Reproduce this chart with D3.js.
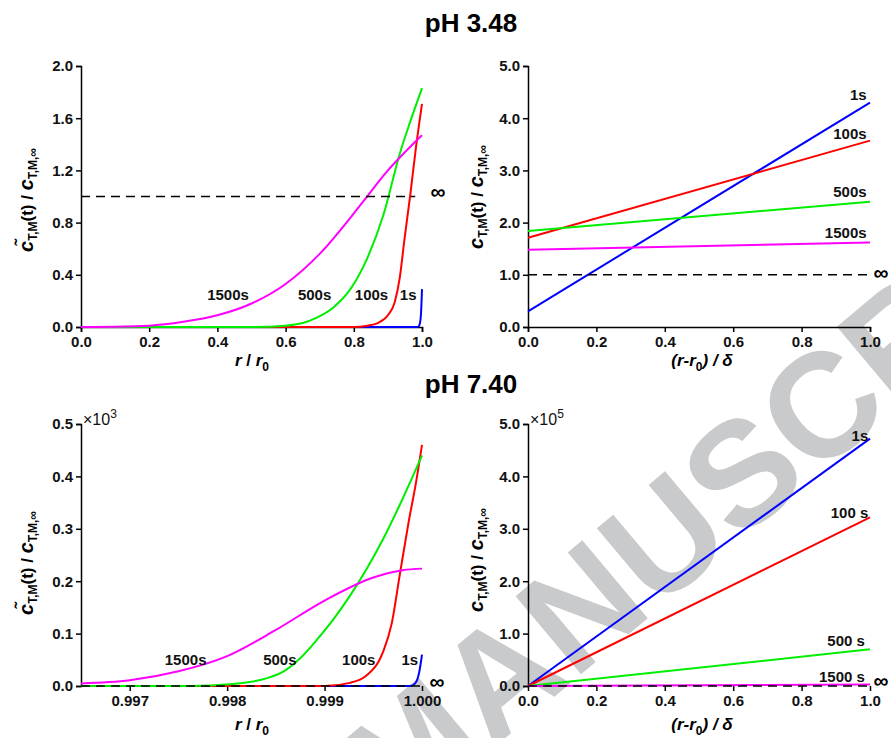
<!DOCTYPE html>
<html>
<head>
<meta charset="utf-8">
<script src="https://cdn.jsdelivr.net/npm/d3@7"></script>
<style>
  body { margin: 0; background: #fff; }
  svg { display: block; font-family: "Liberation Sans", Arial, sans-serif; }
  .tick text { font-size: 15px; font-weight: bold; fill: #111; }
  .domain, .tick line { stroke: #000; stroke-width: 1.5px; }
</style>
</head>
<body>
<svg></svg>
<script>
const timeLabels = ['1s', '100s', '500s', '1500s'];
const timeLabelsSpaced = ['1s', '100 s', '500 s', '1500 s'];
const lineColors = ['#0000ff', '#ff0000', '#00ee00', '#ff00ff'];

// pH 3.48, inside the particle, x = r / r0
const acidIn1s = [[0, 0], [0.988, 0], [0.993, 0.02], [0.997, 0.1], [1.0, 0.29]];
const acidIn100s = [[0, 0], [0.80, 0], [0.84, 0.01], [0.87, 0.03], [0.90, 0.09], [0.92, 0.19],
  [0.935, 0.38], [0.948, 0.66], [0.965, 1.0], [0.982, 1.37], [1.0, 1.71]];
const acidIn500s = [[0, 0], [0.5, 0], [0.6, 0.01], [0.65, 0.03], [0.69, 0.07], [0.74, 0.15],
  [0.79, 0.29], [0.84, 0.53], [0.887, 0.86], [0.935, 1.33], [0.965, 1.57], [1.0, 1.83]];
const acidIn1500s = [[0, 0], [0.1, 0.002], [0.2, 0.01], [0.3, 0.04], [0.4, 0.09], [0.5, 0.18],
  [0.6, 0.33], [0.7, 0.56], [0.8, 0.87], [0.83, 0.97], [0.9, 1.2], [0.95, 1.34], [1.0, 1.47]];
const acidInInf = [[0, 1], [0.98, 1]];

// pH 3.48, film, x = (r - r0) / delta
const filmX = [0, 1];
const acidFilm1s = [0.30, 4.30];
const acidFilm100s = [1.71, 3.57];
const acidFilm500s = [1.84, 2.40];
const acidFilm1500s = [1.48, 1.62];
const acidFilmInf = [1, 1];

// pH 7.40, inside the particle (values x10^3)
const neutIn1s = [[0.9965, 0], [0.99988, 0], [0.99993, 0.005], [0.99997, 0.025], [1.0, 0.06]];
const neutIn100s = [[0.9965, 0], [0.999, 0], [0.99926, 0.006], [0.99943, 0.02], [0.9996, 0.065],
  [0.99969, 0.12], [0.99977, 0.21], [0.99986, 0.31], [0.99994, 0.39], [1.0, 0.46]];
const neutIn500s = [[0.9965, 0], [0.9976, 0], [0.99806, 0.004], [0.99841, 0.015], [0.99858, 0.028],
  [0.99875, 0.053], [0.99892, 0.088], [0.99909, 0.127], [0.99926, 0.172], [0.99943, 0.223],
  [0.9996, 0.28], [0.99977, 0.345], [1.0, 0.44]];
const neutIn1500s = [[0.9965, 0.005], [0.997, 0.011], [0.9975, 0.028], [0.998, 0.057],
  [0.9985, 0.107], [0.999, 0.163], [0.9995, 0.207], [0.9998, 0.221], [1.0, 0.224]];
const neutInInf = [[0.9965, 0], [1.0, 0]];

// pH 7.40, film (values x10^5)
const neutFilm1s = [0, 4.72];
const neutFilm100s = [0, 3.22];
const neutFilm500s = [0, 0.70];
const neutFilm1500s = [0, 0.03];
const neutFilmInf = [0, 0];

// ticks
const xTicksUnit = [0, 0.2, 0.4, 0.6, 0.8, 1.0];
const xTicksNeutIn = [0.997, 0.998, 0.999, 1.000];
const yTicksAcidIn = [0, 0.4, 0.8, 1.2, 1.6, 2.0];
const yTicksFive = [0, 1, 2, 3, 4, 5];
const yTicksNeutIn = [0, 0.1, 0.2, 0.3, 0.4, 0.5];

// curve label anchors [x, y] in data units
const acidInLabelPos = [[0.935, 0.205], [0.803, 0.205], [0.636, 0.205], [0.37, 0.205]];
const acidFilmLabelPos = [[0.99, 4.34], [0.99, 3.60], [0.99, 2.49], [0.99, 1.70]];
const neutInLabelPos = [[0.99979, 0.04], [0.99918, 0.04], [0.99837, 0.04], [0.99736, 0.04]];
const neutFilmLabelPos = [[0.995, 4.67], [0.995, 3.20], [0.985, 0.76], [0.985, 0.08]];

const zip = (xs, ys) => xs.map((x, i) => [x, ys[i]]);

const svg = d3.select('svg').attr('width', 891).attr('height', 738);

// watermark
svg.append('text')
  .attr('transform', 'translate(742,472) rotate(-40)')
  .attr('text-anchor', 'middle')
  .attr('dominant-baseline', 'central')
  .style('font-size', '148px')
  .style('font-weight', 'bold')
  .style('fill', '#c9cacc')
  .text('MANUSCRIPT');

const titleText = (y, txt) => svg.append('text')
  .attr('x', 471).attr('y', y)
  .attr('text-anchor', 'middle')
  .style('font-size', '26px').style('font-weight', 'bold')
  .text(txt);

titleText(32, 'pH 3.48');
titleText(393, 'pH 7.40');

const yLabel = (x, cy, bar) => {
  const t = svg.append('text')
    .attr('transform', `translate(${x},${cy}) rotate(-90)`)
    .attr('text-anchor', 'middle')
    .style('font-weight', 'bold').style('font-size', '17px');
  t.append('tspan').style('font-style', 'italic').style('font-size', '20px').text(bar ? 'c\u0303' : 'c');
  t.append('tspan').attr('dy', 4).style('font-size', '12px').text('T,M');
  t.append('tspan').attr('dy', -4).text('(t) / ');
  t.append('tspan').style('font-style', 'italic').style('font-size', '20px').text('c');
  t.append('tspan').attr('dy', 4).style('font-size', '12px').text('T,M,\u221e');
};

const xLabelR = (cx, y) => {
  const t = svg.append('text').attr('x', cx).attr('y', y)
    .attr('text-anchor', 'middle')
    .style('font-weight', 'bold').style('font-size', '17px');
  t.append('tspan').style('font-style', 'italic').text('r');
  t.append('tspan').text(' / ');
  t.append('tspan').style('font-style', 'italic').text('r');
  t.append('tspan').attr('dy', 5).style('font-size', '12px').text('0');
};

const xLabelFilm = (cx, y) => {
  const t = svg.append('text').attr('x', cx).attr('y', y)
    .attr('text-anchor', 'middle')
    .style('font-weight', 'bold').style('font-size', '17px').style('font-style', 'italic');
  t.append('tspan').text('(r-r');
  t.append('tspan').attr('dy', 5).style('font-size', '12px').style('font-style', 'normal').text('0');
  t.append('tspan').attr('dy', -5).text(') / \u03b4');
};

const drawPanel = opt => {
  const w = opt.x1 - opt.x0;
  const h = opt.y1 - opt.y0;
  const x = d3.scaleLinear().domain(opt.xDomain).range([0, w]);
  const y = d3.scaleLinear().domain(opt.yDomain).range([h, 0]);
  const g = svg.append('g').attr('transform', `translate(${opt.x0},${opt.y0})`);

  g.append('g')
    .call(d3.axisLeft(y).tickValues(opt.yTicks).tickFormat(d3.format('.1f')).tickSize(5).tickPadding(3));

  const xa = g.append('g').attr('transform', `translate(0,${h})`)
    .call(d3.axisBottom(x).tickValues(opt.xTicks).tickFormat(d3.format(opt.xFmt)).tickSize(5).tickPadding(4));
  if (opt.noXDomain) xa.select('.domain').remove();

  const line = d3.line().x(d => x(d[0])).y(d => y(d[1])).curve(d3.curveMonotoneX);

  opt.series.forEach((s, i) => {
    g.append('path').datum(s)
      .attr('fill', 'none')
      .attr('stroke', lineColors[i])
      .attr('stroke-width', 2)
      .attr('d', line);
  });

  g.append('path').datum(opt.inf)
    .attr('fill', 'none')
    .attr('stroke', '#000')
    .attr('stroke-width', 1.6)
    .attr('stroke-dasharray', '9,6')
    .attr('d', line);

  g.append('text')
    .attr('x', x(opt.xDomain[1]) + opt.infDx)
    .attr('y', y(opt.inf[opt.inf.length - 1][1]) + opt.infDy)
    .attr('dy', '0.32em')
    .attr('text-anchor', 'middle')
    .style('font-size', '21px').style('font-weight', 'bold')
    .text('\u221e');

  opt.labelPos.forEach((p, i) => {
    g.append('text')
      .attr('x', x(p[0])).attr('y', y(p[1]))
      .attr('text-anchor', opt.labelAnchor)
      .style('font-size', '15px').style('font-weight', 'bold').style('fill', '#111')
      .text(opt.labels[i]);
  });

  if (opt.factor) {
    const t = g.append('text').attr('x', 2).attr('y', 1)
      .style('font-size', '16px').style('fill', '#111');
    t.append('tspan').text('\u00d710');
    t.append('tspan').attr('dy', -7).style('font-size', '12px').text(opt.factor);
  }
};

drawPanel({
  x0: 81, x1: 422, y0: 66, y1: 327,
  xDomain: [0, 1], yDomain: [0, 2],
  xTicks: xTicksUnit, yTicks: yTicksAcidIn, xFmt: '.1f',
  series: [acidIn1s, acidIn100s, acidIn500s, acidIn1500s],
  inf: acidInInf, infDx: 16, infDy: -4,
  labels: timeLabels, labelPos: acidInLabelPos, labelAnchor: 'start'
});

drawPanel({
  x0: 528, x1: 870, y0: 66, y1: 327,
  xDomain: [0, 1], yDomain: [0, 5],
  xTicks: xTicksUnit, yTicks: yTicksFive, xFmt: '.1f',
  series: [zip(filmX, acidFilm1s), zip(filmX, acidFilm100s), zip(filmX, acidFilm500s), zip(filmX, acidFilm1500s)],
  inf: zip(filmX, acidFilmInf), infDx: 11, infDy: -2,
  labels: timeLabels, labelPos: acidFilmLabelPos, labelAnchor: 'end'
});

drawPanel({
  x0: 81, x1: 422, y0: 424, y1: 686,
  xDomain: [0.9965, 1.0], yDomain: [0, 0.5],
  xTicks: xTicksNeutIn, yTicks: yTicksNeutIn, xFmt: '.3f', noXDomain: true,
  series: [neutIn1s, neutIn100s, neutIn500s, neutIn1500s],
  inf: neutInInf, infDx: 15, infDy: -4,
  labels: timeLabels, labelPos: neutInLabelPos, labelAnchor: 'start',
  factor: '3'
});

drawPanel({
  x0: 528, x1: 870, y0: 424, y1: 686,
  xDomain: [0, 1], yDomain: [0, 5],
  xTicks: xTicksUnit, yTicks: yTicksFive, xFmt: '.1f', noXDomain: true,
  series: [zip(filmX, neutFilm1s), zip(filmX, neutFilm100s), zip(filmX, neutFilm500s), zip(filmX, neutFilm1500s)],
  inf: zip(filmX, neutFilmInf), infDx: 11, infDy: -5,
  labels: timeLabelsSpaced, labelPos: neutFilmLabelPos, labelAnchor: 'end',
  factor: '5'
});

yLabel(33, 200, true);
yLabel(483, 197, false);
yLabel(33, 563, true);
yLabel(483, 560, false);

xLabelR(252, 366);
xLabelFilm(702, 366);
xLabelR(252, 730);
xLabelFilm(702, 730);
</script>
</body>
</html>
